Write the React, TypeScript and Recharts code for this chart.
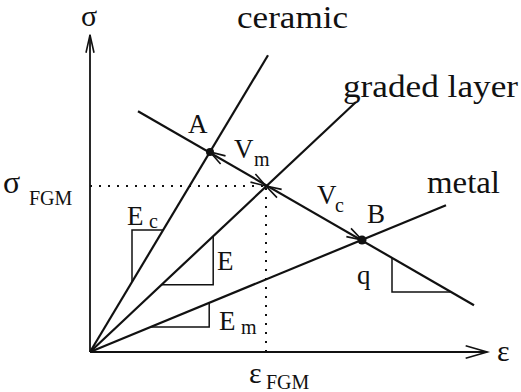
import React from 'react';
import { LineChart, Line, XAxis, YAxis, ReferenceDot } from 'recharts';

type Pt = { x: number; y: number };

// stress-strain lines from the origin (x = strain, y = stress, arbitrary units)
const ceramicLine: Pt[] = [{ x: 0, y: 0 }, { x: 4.45, y: 7.42 }];
const gradedLine: Pt[] = [{ x: 0, y: 0 }, { x: 6.65, y: 6.25 }];
const metalLine: Pt[] = [{ x: 0, y: 0 }, { x: 8.9, y: 3.67 }];
const qLine: Pt[] = [{ x: 1.2, y: 6.02 }, { x: 9.6, y: 1.17 }];

const pointA: Pt = { x: 3.0, y: 5.0 };
const pointB: Pt = { x: 6.8, y: 2.8 };
const pointFGM: Pt = { x: 4.4, y: 4.15 };

// slope triangles
const ecTriangle: Pt[] = [{ x: 1.83, y: 3.05 }, { x: 1.05, y: 3.05 }, { x: 1.05, y: 1.75 }];
const eTriangle: Pt[] = [{ x: 1.78, y: 1.68 }, { x: 3.08, y: 1.68 }, { x: 3.08, y: 2.9 }];
const emTriangle: Pt[] = [{ x: 1.52, y: 0.625 }, { x: 2.98, y: 0.625 }, { x: 2.98, y: 1.23 }];
const qTriangle: Pt[] = [{ x: 7.55, y: 2.35 }, { x: 7.55, y: 1.5 }, { x: 9.02, y: 1.5 }];

// dotted guides to sigma_FGM / eps_FGM
const fgmHorizontal: Pt[] = [{ x: 0, y: pointFGM.y }, { x: pointFGM.x, y: pointFGM.y }];
const fgmVertical: Pt[] = [{ x: pointFGM.x, y: 0 }, { x: pointFGM.x, y: pointFGM.y }];

const xAxisLine: Pt[] = [{ x: 0, y: 0 }, { x: 9.93, y: 0 }];
const yAxisLine: Pt[] = [{ x: 0, y: 0 }, { x: 0, y: 7.93 }];

// open arrow head: barbs going back from tip toward `from`
const arrowHead = (tip: Pt, from: Pt, len: number, spread: number): Pt[] => {
  const a = Math.atan2(from.y - tip.y, from.x - tip.x);
  return [
    { x: tip.x + len * Math.cos(a + spread), y: tip.y + len * Math.sin(a + spread) },
    tip,
    { x: tip.x + len * Math.cos(a - spread), y: tip.y + len * Math.sin(a - spread) },
  ];
};

const heads: Pt[][] = [
  arrowHead(pointA, pointFGM, 0.4, 0.3),
  arrowHead(pointFGM, pointA, 0.4, 0.3),
  arrowHead(pointFGM, pointB, 0.4, 0.3),
  arrowHead(pointB, pointFGM, 0.4, 0.3),
];
const axisHeads: Pt[][] = [
  arrowHead(yAxisLine[1], yAxisLine[0], 0.46, 0.22),
  arrowHead(xAxisLine[1], xAxisLine[0], 0.56, 0.28),
];

const seg = (key: string, data: Pt[], width: number, dash?: string) => (
  <Line
    key={key}
    data={data}
    dataKey="y"
    type="linear"
    stroke="#111"
    strokeWidth={width}
    strokeDasharray={dash}
    dot={false}
    activeDot={false}
    isAnimationActive={false}
  />
);

// labels: [text, x, baseline, font size, stretched width]
const labels: [string, number, number, number, number?][] = [
  ['σ', 81, 26, 30],
  ['ceramic', 237, 28, 32, 111],
  ['graded layer', 343, 97, 32, 175],
  ['metal', 427, 193, 32, 73],
  ['A', 188, 133, 27],
  ['V', 234, 158, 27],
  ['m', 254, 166, 20],
  ['σ', 3, 193, 32],
  ['FGM', 29, 205, 20],
  ['E', 127, 225, 27],
  ['c', 149, 228, 20],
  ['E', 217, 270, 27],
  ['V', 317, 204, 27],
  ['c', 335, 212, 20],
  ['B', 367, 223, 27],
  ['q', 357, 284, 27],
  ['E', 219, 330, 27],
  ['m', 241, 334, 20],
  ['ε', 497, 361, 30],
  ['ε', 249, 383, 30],
  ['FGM', 266, 389, 20],
];

const App: React.FC = () => {
  return (
    <div style={{ position: 'absolute', left: 0, top: 0, width: 521, height: 392, background: '#fff' }}>
      <LineChart width={521} height={392} margin={{ top: 0, right: 0, bottom: 0, left: 0 }}>
        <XAxis type="number" dataKey="x" domain={[-2.25, 10.775]} hide allowDataOverflow />
        <YAxis type="number" domain={[-1, 8.8]} hide allowDataOverflow />
        {seg('xaxis', xAxisLine, 1.8)}
        {seg('yaxis', yAxisLine, 1.8)}
        {axisHeads.map((h, i) => seg('ah' + i, h, 1.6))}
        {seg('fgmH', fgmHorizontal, 2, '2 7')}
        {seg('fgmV', fgmVertical, 2, '2 7')}
        {seg('ceramic', ceramicLine, 2.2)}
        {seg('graded', gradedLine, 2.2)}
        {seg('metal', metalLine, 2.2)}
        {seg('q', qLine, 2.2)}
        {seg('tEc', ecTriangle, 1.5)}
        {seg('tE', eTriangle, 1.5)}
        {seg('tEm', emTriangle, 1.5)}
        {seg('tq', qTriangle, 1.5)}
        {heads.map((h, i) => seg('h' + i, h, 1.6))}
        <ReferenceDot x={pointA.x} y={pointA.y} r={4} fill="#111" stroke="none" />
        <ReferenceDot x={pointB.x} y={pointB.y} r={4.5} fill="#111" stroke="none" />
      </LineChart>
      <svg width={521} height={392} style={{ position: 'absolute', left: 0, top: 0, pointerEvents: 'none' }}>
        {labels.map(([t, x, y, size, len], i) =>
          len ? (
            <text key={i} x={x} y={y} fontSize={size} fontFamily="Liberation Serif" fill="#111"
              textLength={len} lengthAdjust="spacingAndGlyphs">{t}</text>
          ) : (
            <text key={i} x={x} y={y} fontSize={size} fontFamily="Liberation Serif" fill="#111">{t}</text>
          )
        )}
      </svg>
    </div>
  );
};

export default App;
